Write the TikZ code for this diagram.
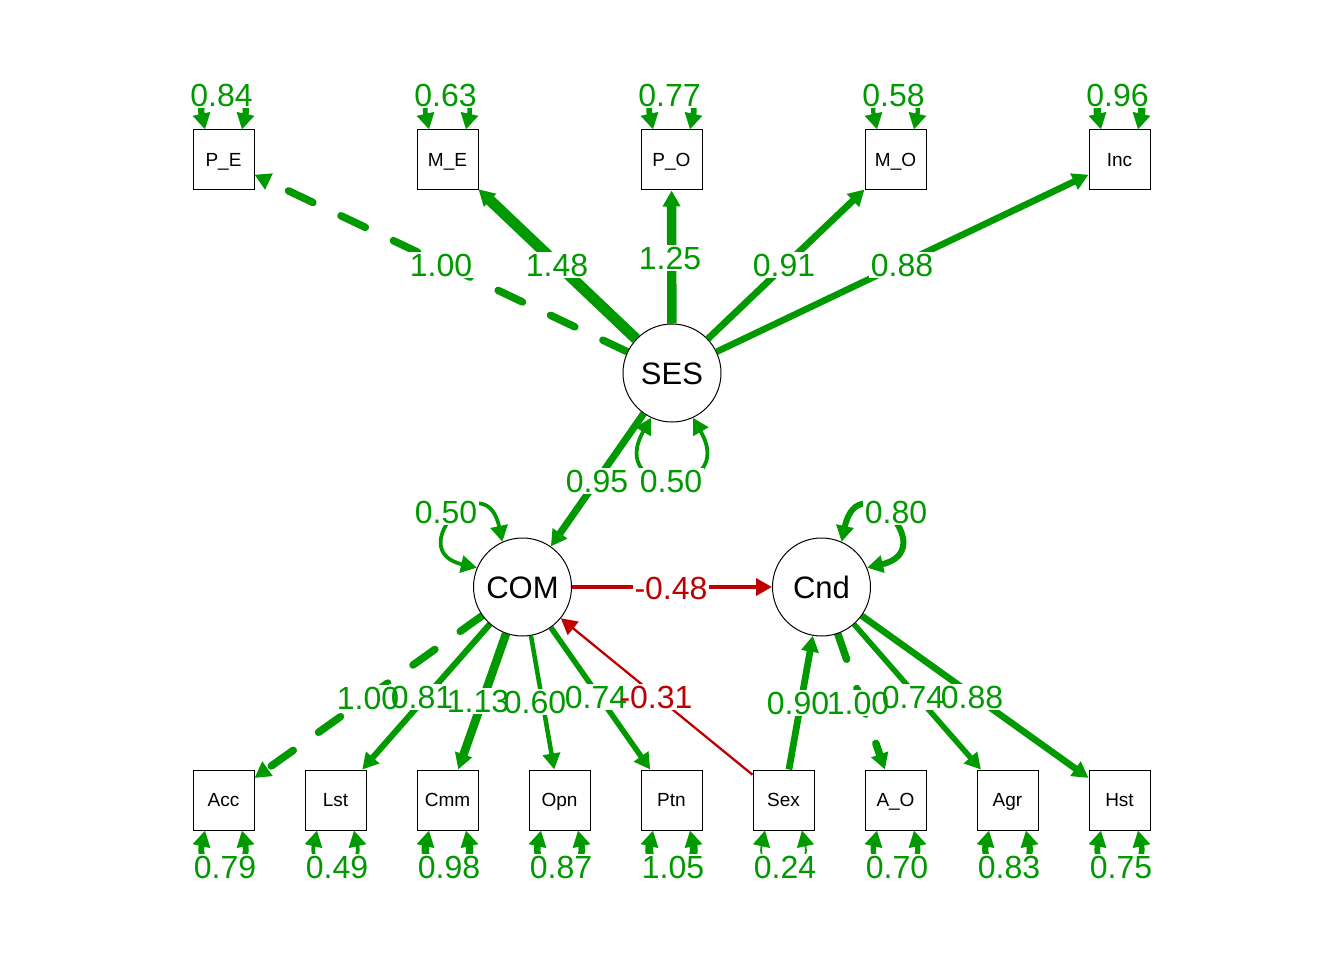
\documentclass[tikz,border=0pt]{standalone}
\usepackage{fontspec}
\setmainfont{Liberation Sans}
\usetikzlibrary{arrows.meta,calc}
\definecolor{pos}{HTML}{009900}
\definecolor{neg}{HTML}{BF0000}
\pgfdeclarelayer{edges}
\pgfdeclarelayer{labelbg}
\pgfsetlayers{edges,labelbg,main}
\tikzset{
  box/.style={draw, line width=1pt, fill=white, minimum width=61pt, minimum height=60pt, inner sep=0pt, text height=13.6pt, text depth=0pt, font=\fontsize{19}{22}\selectfont},
  lat/.style={draw, circle, line width=1pt, fill=white, minimum size=98pt, inner sep=0pt, text height=22pt, text depth=0pt, font=\fontsize{31}{36}\selectfont},
  tipA/.tip={Triangle[length=16pt,width=17pt]},
  pe/.style={draw=pos, line width=#1, -tipA},
  ne/.style={draw=neg, line width=#1, -tipA},
  fixedpar/.style={dash pattern=on 27pt off 31pt, line cap=round},
  resid/.style={draw=pos, line width=#1, tipA-tipA},
  lbg/.style={fill=white, inner sep=1.5pt, text height=23pt, text depth=0pt, font=\fontsize{32}{38}\selectfont},
  lbl/.style={inner sep=1.5pt, text height=23pt, text depth=0pt, font=\fontsize{32}{38}\selectfont},
}
\newcommand\elab[4]{%
  \begin{pgfonlayer}{labelbg}\node[lbg] (#4bg) at (#1) {\phantom{#3}};\end{pgfonlayer}
  \node[lbl, text=#2] (#4) at (#1) {#3};}
\newcommand\toploop[3]{%
  \begin{pgfonlayer}{edges}
  \draw[resid=#2] ($(#1.north)+(-18.5,0)$) .. controls +(-10,-45) and +(10,-45) .. ($(#1.north)+(18.5,0)$);
  \end{pgfonlayer}
  \elab{$(#1.center)+(-2,-65)$}{pos}{#3}{r#1}}
\newcommand\botloop[3]{%
  \begin{pgfonlayer}{edges}
  \draw[resid=#2] ($(#1.south)+(-18.5,0)$) .. controls +(-10,45) and +(10,45) .. ($(#1.south)+(18.5,0)$);
  \end{pgfonlayer}
  \elab{$(#1.center)+(1.5,67)$}{pos}{#3}{r#1}}
\begin{document}
\begin{tikzpicture}[x=1pt,y=-1pt]
\useasboundingbox (0,0) rectangle (1344,960);
% manifest variables, top
\node[box] (PE)  at (223.5,160) {P\_E};
\node[box] (ME)  at (447.5,160) {M\_E};
\node[box] (PO)  at (671.5,160) {P\_O};
\node[box] (MO)  at (895.5,160) {M\_O};
\node[box] (Inc) at (1119.5,160) {Inc};
% manifest variables, bottom
\node[box] (Acc) at (223.5,800) {Acc};
\node[box] (Lst) at (335.5,800) {Lst};
\node[box] (Cmm) at (447.5,800) {Cmm};
\node[box] (Opn) at (559.5,800) {Opn};
\node[box] (Ptn) at (671.5,800) {Ptn};
\node[box] (Sex) at (783.5,800) {Sex};
\node[box] (AO)  at (895.5,800) {A\_O};
\node[box] (Agr) at (1007.5,800) {Agr};
\node[box] (Hst) at (1119.5,800) {Hst};
% latent variables
\node[lat] (SES) at (672,373) {SES};
\node[lat] (COM) at (522.5,587) {COM};
\node[lat] (Cnd) at (821.5,587) {Cnd};

\begin{pgfonlayer}{edges}
\draw[pe=7.5pt, fixedpar] (SES) -- (PE);
\draw[pe=11pt] (SES) -- (ME);
\draw[pe=9.4pt] (SES) -- (PO);
\draw[pe=6.8pt] (SES) -- (MO);
\draw[pe=6.6pt] (SES) -- (Inc);
\draw[pe=7.1pt] (SES) -- (COM);
\draw[ne=3.6pt] (COM) -- (Cnd);
\draw[pe=7.5pt, fixedpar] (COM) -- (Acc);
\draw[pe=6.1pt] (COM) -- (Lst);
\draw[pe=8.5pt] (COM) -- (Cmm);
\draw[pe=4.5pt] (COM) -- (Opn);
\draw[pe=5.5pt] (COM) -- (Ptn);
\draw[ne=2.3pt] (Sex) -- (COM);
\draw[pe=6.75pt] (Sex) -- (Cnd);
\draw[pe=7.5pt, fixedpar] (Cnd) -- (AO);
\draw[pe=5.5pt] (Cnd) -- (Agr);
\draw[pe=6.6pt] (Cnd) -- (Hst);
% latent variances
\draw[resid=3.75pt] (SES.-115) .. controls +(-46,80) and +(46,80) .. (SES.-65);
\draw[resid=3.75pt] (COM.114) .. controls +(-17,-80) and +(-75,-17) .. (COM.157);
\draw[resid=6pt] (Cnd.66) .. controls +(17,-80) and +(75,-17) .. (Cnd.23);
\end{pgfonlayer}

% edge labels
\elab{441,265}{pos}{1.00}{lPE}
\elab{557,265}{pos}{1.48}{lME}
\elab{670,258}{pos}{1.25}{lPO}
\elab{784,265}{pos}{0.91}{lMO}
\elab{902,265}{pos}{0.88}{lInc}
\elab{597,481}{pos}{0.95}{lSC}
\elab{671,481}{pos}{0.50}{lSESv}
\elab{446,512}{pos}{0.50}{lCOMv}
\elab{896,512}{pos}{0.80}{lCndv}
\elab{671,588}{neg}{-0.48}{lCC}
\elab{368,698}{pos}{1.00}{lAcc}
\elab{422,697}{pos}{0.81}{lLst}
\elab{478,701}{pos}{1.13}{lCmm}
\elab{535,702}{pos}{0.60}{lOpn}
\elab{596,697}{pos}{0.74}{lPtn}
\elab{656,697}{neg}{-0.31}{lSexCOM}
\elab{798,703}{pos}{0.90}{lSexCnd}
\elab{858,703}{pos}{1.00}{lAO}
\elab{913,697}{pos}{0.74}{lAgr}
\elab{972,697}{pos}{0.88}{lHst}

% residual variances
\toploop{PE}{6.3pt}{0.84}
\toploop{ME}{4.7pt}{0.63}
\toploop{PO}{5.8pt}{0.77}
\toploop{MO}{4.35pt}{0.58}
\toploop{Inc}{7.2pt}{0.96}
\botloop{Acc}{5.9pt}{0.79}
\botloop{Lst}{3.7pt}{0.49}
\botloop{Cmm}{7.35pt}{0.98}
\botloop{Opn}{6.5pt}{0.87}
\botloop{Ptn}{7.9pt}{1.05}
\botloop{Sex}{1.8pt}{0.24}
\botloop{AO}{5.25pt}{0.70}
\botloop{Agr}{6.2pt}{0.83}
\botloop{Hst}{5.6pt}{0.75}
\end{tikzpicture}
\end{document}
